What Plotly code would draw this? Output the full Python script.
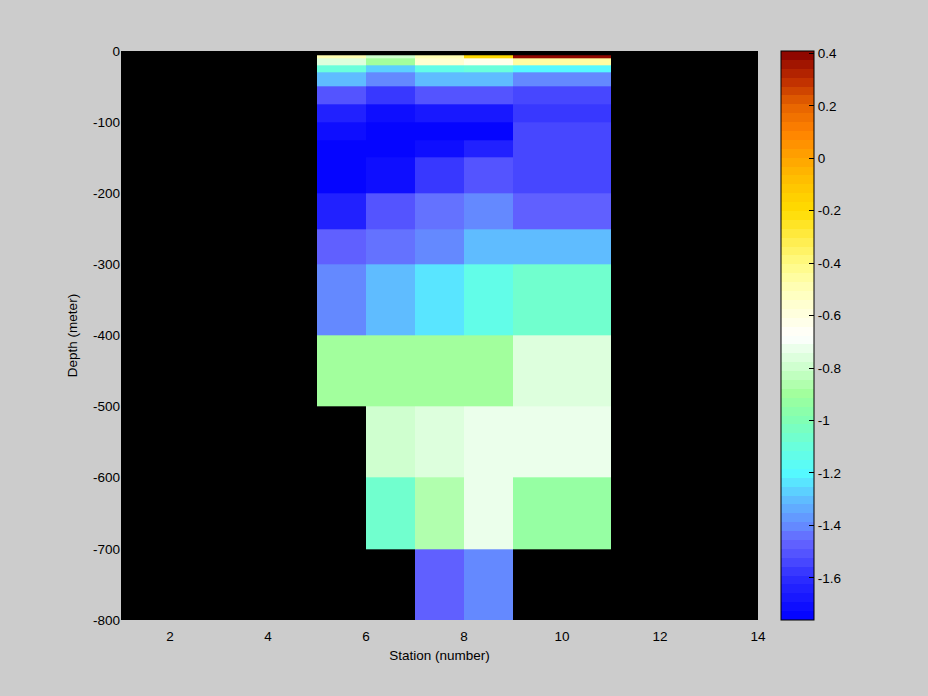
import numpy as np
import plotly.graph_objects as go

# Station edges (cells) and depth edges
station_edges = [5, 6, 7, 8, 9, 11]
depth_edges = [-6, -10, -20, -30, -50, -75, -100, -125, -150, -200, -250,
               -300, -400, -500, -600, -700, -800]

nan = None
# values per depth layer (rows) for station cells 5-6, 6-7, 7-8, 8-9, 9-11
values = [
    [-0.48, -0.80, -0.48, -0.18, 0.40],
    [-0.75, -0.90, -0.55, -0.62, -0.47],
    [-1.10, -1.26, -1.12, -1.10, -1.20],
    [-1.29, -1.40, -1.32, -1.32, -1.40],
    [-1.50, -1.58, -1.50, -1.50, -1.55],
    [-1.63, -1.70, -1.67, -1.67, -1.58],
    [-1.70, -1.75, -1.75, -1.75, -1.53],
    [-1.75, -1.75, -1.70, -1.63, -1.53],
    [-1.75, -1.70, -1.58, -1.50, -1.53],
    [-1.63, -1.50, -1.45, -1.41, -1.47],
    [-1.47, -1.45, -1.40, -1.32, -1.32],
    [-1.40, -1.32, -1.22, -1.13, -1.05],
    [-0.90, -0.90, -0.90, -0.90, -0.75],
    [nan, -0.80, -0.76, -0.73, -0.71],
    [nan, -1.08, -0.87, -0.73, -0.92],
    [nan, nan, -1.46, -1.41, nan],
]

x_ticks = [2, 4, 6, 8, 10, 12, 14]
y_ticks = [0, -100, -200, -300, -400, -500, -600, -700, -800]
cb_ticks = [0.4, 0.2, 0, -0.2, -0.4, -0.6, -0.8, -1, -1.2, -1.4, -1.6]

zmin, zmax = -1.761, 0.409

# colormap anchors (value, rgb)
anchors = [
    (-1.761, (0, 0, 255)),
    (-1.6, (45, 45, 255)),
    (-1.52, (80, 80, 255)),
    (-1.46, (100, 100, 255)),
    (-1.4, (100, 140, 255)),
    (-1.3, (95, 190, 255)),
    (-1.2, (85, 250, 255)),
    (-1.1, (105, 255, 220)),
    (-1.0, (128, 255, 180)),
    (-0.9, (160, 255, 155)),
    (-0.8, (205, 255, 205)),
    (-0.68, (255, 255, 255)),
    (-0.6, (255, 255, 225)),
    (-0.5, (255, 255, 185)),
    (-0.4, (255, 250, 130)),
    (-0.3, (255, 235, 70)),
    (-0.2, (255, 220, 0)),
    (-0.1, (255, 195, 0)),
    (0.0, (255, 165, 0)),
    (0.1, (255, 130, 0)),
    (0.2, (230, 100, 0)),
    (0.3, (190, 45, 0)),
    (0.409, (135, 0, 0)),
]
av = np.array([a[0] for a in anchors])
ac = np.array([a[1] for a in anchors], dtype=float)
N = 64
colorscale = []
for i in range(N):
    v = zmin + (i + 0.5) / N * (zmax - zmin)
    c = [int(round(np.interp(v, av, ac[:, k]))) for k in range(3)]
    col = f"rgb({c[0]},{c[1]},{c[2]})"
    colorscale.append([i / N, col])
    colorscale.append([(i + 1) / N, col])

z = [[np.nan if v is None else v for v in row] for row in values]

font = dict(family="Liberation Sans, Arial, sans-serif", size=13.5, color="black")

fig = go.Figure(go.Heatmap(
    x=station_edges, y=depth_edges, z=z,
    zmin=zmin, zmax=zmax, colorscale=colorscale, zsmooth=False,
    hoverongaps=False,
    colorbar=dict(
        x=(781 - 121) / 637, xanchor="left", xref="paper",
        y=0.5, yanchor="middle", len=1.0, lenmode="fraction",
        thickness=33, outlinecolor="black", outlinewidth=1,
        tickvals=cb_ticks, ticktext=[f"{t:g}" for t in cb_ticks],
        ticks="inside", ticklen=5, tickcolor="black", tickfont=font,
        ypad=0, xpad=0,
    ),
))

fig.update_layout(
    width=928, height=696,
    paper_bgcolor="#cccccc", plot_bgcolor="black",
    margin=dict(l=121, r=170, t=51, b=76),
    font=font,
    xaxis=dict(range=[1, 14], tickvals=x_ticks, ticktext=[str(t) for t in x_ticks],
               showgrid=False, zeroline=False, ticks="", showline=False,
               ticklabelstandoff=6,
               title=dict(text="Station (number)", font=font, standoff=8)),
    yaxis=dict(range=[-800, 0], tickvals=y_ticks, ticktext=[str(t) for t in y_ticks],
               showgrid=False, zeroline=False, ticks="", showline=False,
               ticklabelstandoff=0,
               title=dict(text="Depth (meter)", font=font, standoff=12)),
)

fig.write_html(
    "out.html",
    config={"displayModeBar": False},
    post_script="document.body.style.margin='0';document.body.style.background='#cccccc';",
)
